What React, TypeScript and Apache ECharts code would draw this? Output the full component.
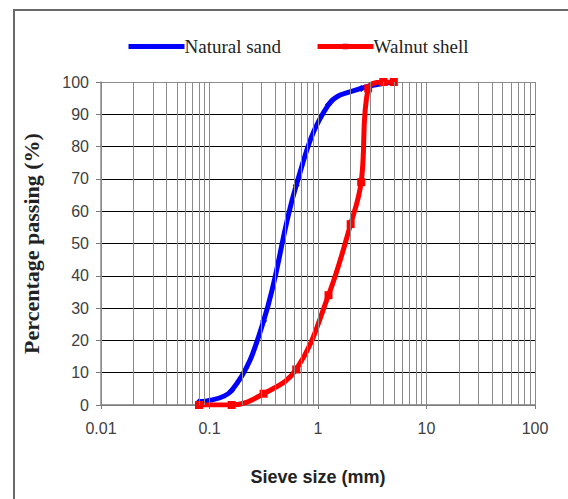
import React, { useEffect, useRef } from "react";
import * as echarts from "echarts";

// Sieve sizes (mm) and percentage passing
const sandSizes = [0.08, 0.16, 0.315, 0.63, 1.25, 2.5, 5];
const sandPassing = [1, 4.5, 26, 68, 93, 98, 100];

const shellSizes = [0.08, 0.16, 0.315, 0.63, 1.25, 2.0, 2.5, 2.9, 4, 5];
const shellPassing = [0, 0, 3.5, 11, 34, 56, 69, 98, 100, 100];

const yTicks = [0, 10, 20, 30, 40, 50, 60, 70, 80, 90, 100];
const decades = [0.01, 0.1, 1, 10];
const minorMultipliers = [2, 3, 4, 5, 6, 7, 8, 9];

export default function App() {
  const ref = useRef<HTMLDivElement>(null);

  useEffect(() => {
    if (!ref.current) return;
    const chart = echarts.init(ref.current, null, { renderer: "svg" });

    const minorLines: any[] = [];
    decades.forEach((d) =>
      minorMultipliers.forEach((m) => minorLines.push({ xAxis: +(d * m).toPrecision(3) }))
    );
    decades.forEach((d) => minorLines.push({ xAxis: d }));
    minorLines.push({ xAxis: 100 });

    const splitColors = yTicks.map((t, i) =>
      i === 0 || i === yTicks.length - 1 ? "#8c8c8c" : "#000000"
    );

    chart.setOption({
      animation: false,
      backgroundColor: "#ffffff",
      graphic: [
        {
          type: "rect",
          shape: { x: 14, y: 10, width: 620, height: 560 },
          style: { fill: "none", stroke: "#6a6a6a", lineWidth: 2 },
          z: -1,
        },
      ],
      legend: {
        left: 121,
        top: 32,
        itemWidth: 56,
        itemHeight: 7,
        itemGap: 34,
        lineStyle: { width: 5 },
        textStyle: {
          fontFamily: "Liberation Serif",
          fontSize: 19,
          color: "#222",
          padding: [0, 0, 0, -5],
        },
        data: ["Natural sand", "Walnut shell"],
      },
      grid: { left: 101, right: 33, top: 82, bottom: 94 },
      xAxis: {
        type: "log",
        logBase: 10,
        min: 0.01,
        max: 100,
        name: "Sieve size (mm)",
        nameLocation: "middle",
        nameGap: 63,
        nameTextStyle: {
          fontFamily: "Liberation Sans",
          fontWeight: "bold",
          fontSize: 18,
          color: "#222",
        },
        axisLine: { show: true, lineStyle: { color: "#7a7a7a", width: 1.5 } },
        axisTick: { show: true, length: 4, lineStyle: { color: "#7a7a7a" } },
        axisLabel: {
          fontFamily: "Liberation Sans",
          fontSize: 16,
          color: "#404040",
          margin: 15,
          formatter: (v: number) => String(+v.toPrecision(3)),
        },
        splitLine: { show: false },
        minorTick: { show: false },
      },
      yAxis: {
        type: "value",
        min: 0,
        max: 100,
        interval: 10,
        name: "Percentage passing (%)",
        nameLocation: "middle",
        nameRotate: 90,
        nameGap: 59,
        nameTextStyle: {
          fontFamily: "Liberation Serif",
          fontWeight: "bold",
          fontSize: 22,
          color: "#222",
        },
        axisLine: { show: true, lineStyle: { color: "#8c8c8c", width: 1.5 } },
        axisTick: { show: true, length: 5, inside: false, lineStyle: { color: "#7a7a7a" } },
        axisLabel: {
          fontFamily: "Liberation Sans",
          fontSize: 16,
          color: "#404040",
          margin: 12,
        },
        splitLine: { show: true, lineStyle: { color: splitColors, width: 1 } },
      },
      series: [
        {
          name: "grid-minor",
          type: "line",
          data: [],
          z: 1,
          silent: true,
          legendHoverLink: false,
          markLine: {
            silent: true,
            symbol: ["none", "none"],
            label: { show: false },
            lineStyle: { color: "#8a8a8a", width: 1, type: "solid" },
            data: minorLines,
          },
        },
        {
          name: "Natural sand",
          type: "line",
          z: 3,
          smooth: 0.4,
          symbol: "diamond",
          symbolSize: 7,
          itemStyle: { color: "#0000ff" },
          lineStyle: { color: "#0000ff", width: 5 },
          data: sandSizes.map((s, i) => [s, sandPassing[i]]),
        },
        {
          name: "Walnut shell",
          type: "line",
          z: 4,
          smooth: 0.4,
          symbol: "rect",
          symbolSize: 8,
          itemStyle: { color: "#ff0000" },
          lineStyle: { color: "#ff0000", width: 5 },
          data: shellSizes.map((s, i) => [s, shellPassing[i]]),
        },
      ],
    });

    return () => chart.dispose();
  }, []);

  return (
    <div
      ref={ref}
      style={{ position: "absolute", left: 0, top: 0, width: 568, height: 499 }}
    />
  );
}
